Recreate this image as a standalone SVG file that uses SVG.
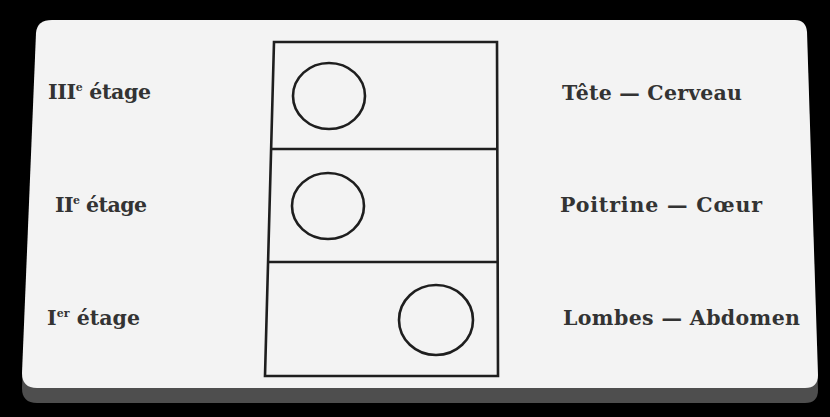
<svg xmlns="http://www.w3.org/2000/svg" width="830" height="417" viewBox="0 0 830 417">
<style>
.lbl{font-family:"DejaVu Serif","Liberation Serif",serif;font-weight:bold;font-size:20.5px;fill:#333}
.sup{font-size:11px}
.ln{fill:none;stroke:#1e1e1e;stroke-width:2.6}
</style>
<rect x="0" y="0" width="830" height="417" fill="#000"/>
<path d="M52,35 L795,35 Q806,35 807,47 L818,390 Q818,403 805,403 L37,403 Q22,403 22,388 L36,48 Q37,35 52,35 Z" fill="#4e4e4e"/>
<path d="M52,20 L795,20 Q806,20 807,32 L818,375 Q818,388 805,388 L37,388 Q22,388 22,373 L36,33 Q37,20 52,20 Z" fill="#f3f3f3"/>
<g id="building">
<path class="ln" d="M274,42 L497,42 L498,376 L265,376 Z"/>
<line class="ln" x1="272" y1="149" x2="497" y2="149"/>
<line class="ln" x1="268" y1="262" x2="498" y2="262"/>
</g>
<g id="etage3">
<ellipse class="ln" cx="329" cy="96" rx="36" ry="33"/>
<text class="lbl" x="48" y="99" textLength="103" lengthAdjust="spacing">III<tspan class="sup" dy="-8">e</tspan><tspan dy="8"> étage</tspan></text>
<text class="lbl" x="562" y="100" textLength="180" lengthAdjust="spacing">Tête — Cerveau</text>
</g>
<g id="etage2">
<ellipse class="ln" cx="328" cy="206" rx="36" ry="33"/>
<text class="lbl" x="55" y="212" textLength="92" lengthAdjust="spacing">II<tspan class="sup" dy="-8">e</tspan><tspan dy="8"> étage</tspan></text>
<text class="lbl" x="560" y="212" textLength="202" lengthAdjust="spacing">Poitrine — Cœur</text>
</g>
<g id="etage1">
<ellipse class="ln" cx="436" cy="320" rx="37" ry="35"/>
<text class="lbl" x="47" y="325" textLength="93" lengthAdjust="spacing">I<tspan class="sup" dy="-8">er</tspan><tspan dy="8"> étage</tspan></text>
<text class="lbl" x="563" y="325" textLength="237" lengthAdjust="spacing">Lombes — Abdomen</text>
</g>
<g id="connectors"></g>
</svg>
